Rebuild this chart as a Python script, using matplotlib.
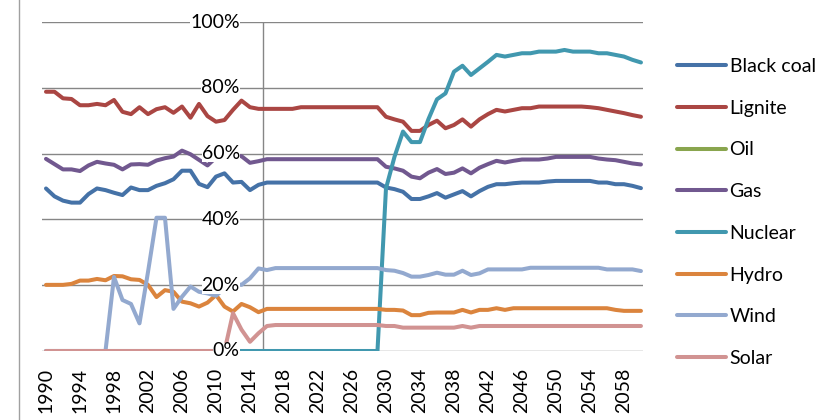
import matplotlib
matplotlib.use("Agg")
import matplotlib.pyplot as plt
from matplotlib.lines import Line2D

plt.rcParams['font.family'] = ['Lato', 'DejaVu Sans']

years = list(range(1990, 2061))

black_coal = [
    49.4, 47.0, 45.7, 45.1, 45.1, 47.7, 49.4, 48.9, 48.1, 47.4,
    49.7, 48.9, 48.9, 50.2, 51.0, 52.2, 54.8, 54.8, 50.8, 49.8,
    53.0, 54.0, 51.2, 51.4, 48.9, 50.5, 51.2, 51.2, 51.2, 51.2,
    51.2, 51.2, 51.2, 51.2, 51.2, 51.2, 51.2, 51.2, 51.2, 51.2,
    49.7, 49.2, 48.4, 46.2, 46.2, 47.0, 48.0, 46.6, 47.6, 48.6,
    47.0, 48.6, 49.9, 50.7, 50.7, 51.0, 51.2, 51.2, 51.2, 51.5,
    51.7, 51.7, 51.7, 51.7, 51.7, 51.2, 51.2, 50.7, 50.7, 50.2,
    49.5]
lignite = [
    78.8, 78.8, 76.8, 76.6, 74.7, 74.7, 75.1, 74.7, 76.3, 72.7,
    72.0, 74.1, 72.0, 73.5, 74.1, 72.4, 74.3, 70.9, 75.1, 71.4,
    69.7, 70.2, 73.3, 76.1, 74.1, 73.6, 73.6, 73.6, 73.6, 73.6,
    74.1, 74.1, 74.1, 74.1, 74.1, 74.1, 74.1, 74.1, 74.1, 74.1,
    71.2, 70.4, 69.7, 66.9, 66.9, 68.7, 70.0, 67.7, 68.7, 70.4,
    68.2, 70.4, 72.0, 73.3, 72.8, 73.3, 73.8, 73.8, 74.3, 74.3,
    74.3, 74.3, 74.3, 74.3, 74.1, 73.8, 73.3, 72.8, 72.3, 71.7,
    71.2]
oil = []
gas = [
    58.4, 56.8, 55.2, 55.2, 54.7, 56.4, 57.5, 57.0, 56.6, 55.2,
    56.7, 56.8, 56.6, 57.9, 58.6, 59.1, 60.9, 59.8, 58.1, 56.4,
    58.8, 59.5, 59.5, 59.2, 57.2, 57.7, 58.3, 58.3, 58.3, 58.3,
    58.3, 58.3, 58.3, 58.3, 58.3, 58.3, 58.3, 58.3, 58.3, 58.3,
    56.0, 55.5, 54.8, 53.0, 52.5, 54.2, 55.3, 53.8, 54.2, 55.5,
    54.0, 55.7, 56.8, 57.8, 57.3, 57.8, 58.2, 58.2, 58.2, 58.5,
    59.0, 59.0, 59.0, 59.0, 59.0, 58.5, 58.2, 58.0, 57.5, 57.0,
    56.7]
nuclear = [
    0, 0, 0, 0, 0, 0, 0, 0, 0, 0,
    0, 0, 0, 0, 0, 0, 0, 0, 0, 0,
    0, 0, 0, 0, 0, 0, 0, 0, 0, 0,
    0, 0, 0, 0, 0, 0, 0, 0, 0, 0,
    49.4, 59.0, 66.7, 63.5, 63.5, 70.5, 76.5, 78.3, 84.9, 86.7,
    83.9, 85.9, 87.9, 90.0, 89.5, 90.0, 90.5, 90.5, 91.0, 91.0,
    91.0, 91.5, 91.0, 91.0, 91.0, 90.5, 90.5, 90.0, 89.5, 88.5,
    87.7]
hydro = [
    20.1, 20.1, 20.1, 20.4, 21.4, 21.4, 21.9, 21.5, 22.8, 22.7,
    21.8, 21.6, 20.1, 16.4, 18.5, 18.0, 15.0, 14.5, 13.5, 14.7,
    17.0, 13.5, 12.0, 14.3, 13.3, 11.8, 12.8, 12.8, 12.8, 12.8,
    12.8, 12.8, 12.8, 12.8, 12.8, 12.8, 12.8, 12.8, 12.8, 12.8,
    12.5, 12.5, 12.3, 10.9, 10.9, 11.6, 11.7, 11.7, 11.7, 12.5,
    11.7, 12.5, 12.5, 13.0, 12.5, 13.0, 13.0, 13.0, 13.0, 13.0,
    13.0, 13.0, 13.0, 13.0, 13.0, 13.0, 13.0, 12.5, 12.2, 12.2,
    12.2]
wind = [
    0, 0, 0, 0, 0, 0, 0, 0, 22.5, 15.5,
    14.3, 8.4, 24.0, 40.5, 40.5, 12.8, 16.5, 19.6, 18.0, 17.5,
    16.8, 19.0, 20.5, 20.1, 22.1, 25.1, 24.6, 25.2, 25.2, 25.2,
    25.2, 25.2, 25.2, 25.2, 25.2, 25.2, 25.2, 25.2, 25.2, 25.2,
    24.6, 24.4, 23.7, 22.6, 22.6, 23.1, 23.8, 23.2, 23.2, 24.4,
    23.1, 23.6, 24.8, 24.8, 24.8, 24.8, 24.8, 25.3, 25.3, 25.3,
    25.3, 25.3, 25.3, 25.3, 25.3, 25.3, 24.8, 24.8, 24.8, 24.8,
    24.3]
solar = [
    0, 0, 0, 0, 0, 0, 0, 0, 0, 0,
    0, 0, 0, 0, 0, 0, 0, 0, 0, 0,
    0, 0, 11.5, 6.5, 2.8, 5.4, 7.6, 7.9, 7.9, 7.9,
    7.9, 7.9, 7.9, 7.9, 7.9, 7.9, 7.9, 7.9, 7.9, 7.9,
    7.6, 7.6, 7.1, 7.1, 7.1, 7.1, 7.1, 7.1, 7.1, 7.6,
    7.1, 7.6, 7.6, 7.6, 7.6, 7.6, 7.6, 7.6, 7.6, 7.6,
    7.6, 7.6, 7.6, 7.6, 7.6, 7.6, 7.6, 7.6, 7.6, 7.6,
    7.6]

series = [
    ("Black coal", black_coal, "#4572A7"),
    ("Lignite", lignite, "#AA4643"),
    ("Oil", oil, "#89A54E"),
    ("Gas", gas, "#71588F"),
    ("Nuclear", nuclear, "#4198AF"),
    ("Hydro", hydro, "#DB843D"),
    ("Wind", wind, "#93A9CF"),
    ("Solar", solar, "#D19392"),
]

y_ticks = [0, 20, 40, 60, 80, 100]
x_ticks = list(range(1990, 2059, 4))

fig = plt.figure(figsize=(8.21, 4.2), dpi=100)
ax = fig.add_axes([42 / 821, 69 / 420, 601 / 821, 329 / 420])

for name, vals, col in series:
    ax.plot(years[:len(vals)], vals, color=col, lw=2.9, label=name,
            solid_capstyle='round', solid_joinstyle='round', zorder=3)

ax.set_xlim(1989.53, 2060.24)
ax.set_ylim(0, 100)

for v in y_ticks:
    ax.axhline(v, color="#868686", lw=1.0, zorder=1)
ax.axvline(2015.5, color="#868686", lw=1.0, zorder=1)

for v in y_ticks:
    ax.annotate(f"{v}%", xy=(2015.5, v), xytext=(-16.5, 0),
                textcoords='offset points', ha='right', va='center',
                fontsize=14, zorder=5,
                bbox=dict(facecolor='white', edgecolor='none', pad=0))

for s in ax.spines.values():
    s.set_visible(False)
ax.set_yticks([])
ax.set_xticks(x_ticks)
ax.set_xticklabels([str(x) for x in x_ticks], rotation=90, fontsize=14)
ax.tick_params(axis='x', length=0, pad=12)

ax.legend(loc='center left', bbox_to_anchor=(677 / 821, 1 - 212.5 / 420),
          bbox_transform=fig.transFigure, frameon=False, fontsize=14,
          handlelength=2.5, handletextpad=0.2, labelspacing=1.27,
          borderpad=0, borderaxespad=0)

fig.add_artist(Line2D([18.5 / 821, 18.5 / 821], [0, 1], color="#A0A0A0", lw=1.0))

fig.savefig("out.png", dpi=100)
